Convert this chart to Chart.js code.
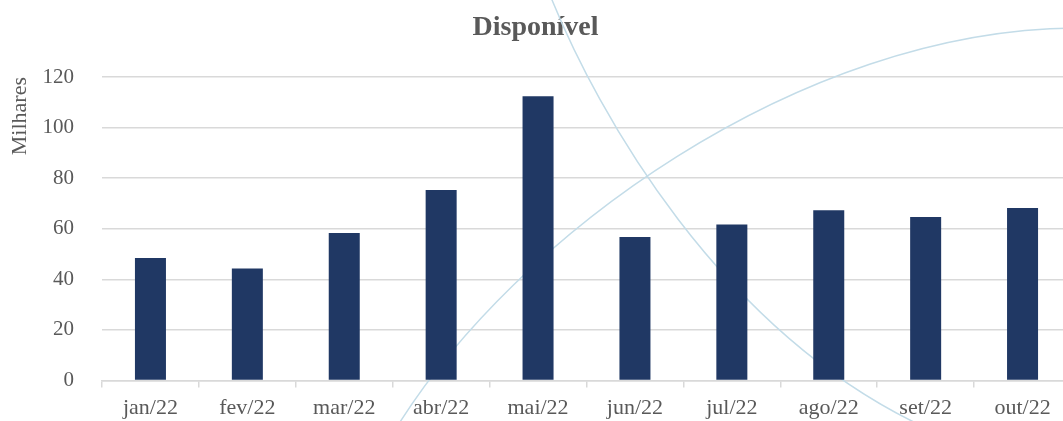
<!DOCTYPE html>
<html>
<head>
<meta charset="utf-8">
<script src="https://cdn.jsdelivr.net/npm/chart.js@4/dist/chart.umd.min.js"></script>
<style>
  body{ margin:0; overflow:hidden; background:#fff; }
</style>
</head>
<body>
<canvas id="chart" width="1075" height="421"></canvas>
<script>
const months = ["jan/22","fev/22","mar/22","abr/22","mai/22","jun/22","jul/22","ago/22","set/22","out/22"];
const disponivel = [48.4, 44.3, 58.3, 75.3, 112.4, 56.7, 61.7, 67.3, 64.6, 68.2];
const yTicks = [0, 20, 40, 60, 80, 100, 120];

const GRAY = "#595959";
const GRID = "#d9d9d9";
const FONT = "'Liberation Serif', 'Times New Roman', serif";

/* light blue background swirls, just decoration */
const swirls = {
  id: "swirls",
  beforeDatasetsDraw(chart){
    const ctx = chart.ctx;
    ctx.save();
    ctx.strokeStyle = "#c3dce8";
    ctx.lineWidth = 1.5;
    ctx.beginPath();
    ctx.moveTo(550, -5);
    ctx.bezierCurveTo(598, 115, 720, 330, 922, 426);
    ctx.stroke();
    ctx.beginPath();
    ctx.moveTo(395, 430);
    ctx.bezierCurveTo(515, 235, 800, 30, 1075, 28);
    ctx.stroke();
    ctx.restore();
  }
};

new Chart(document.getElementById("chart"), {
  type: "bar",
  data: {
    labels: months,
    datasets: [{
      label: "Disponível",
      data: disponivel,
      backgroundColor: "#203864",
      categoryPercentage: 0.32,
      barPercentage: 1
    }]
  },
  options: {
    responsive: false,
    animation: false,
    layout: { padding: { left: 0, right: 4, top: 0, bottom: 0 } },
    plugins: {
      legend: { display: false },
      tooltip: { enabled: false },
      title: {
        display: true,
        text: "Disponível",
        color: GRAY,
        font: { family: FONT, size: 28, weight: "bold" },
        padding: { top: 11, bottom: 32.4 }
      }
    },
    scales: {
      x: {
        grid: { offset: true, drawOnChartArea: false, tickLength: 7, color: GRID, lineWidth: 1.5 },
        border: { display: true, color: GRID, width: 1.5 },
        ticks: { color: GRAY, font: { family: FONT, size: 22 }, padding: 8, maxRotation: 0 },
        afterFit(scale){ scale.height = 40; }
      },
      y: {
        min: 0,
        max: 120,
        afterBuildTicks(scale){ scale.ticks = yTicks.map(v => ({ value: v })); },
        grid: { drawTicks: false, color: GRID, lineWidth: 1.5 },
        border: { display: false },
        ticks: { color: GRAY, font: { family: FONT, size: 21 }, padding: 28 },
        title: {
          display: true,
          text: "Milhares",
          align: "end",
          color: GRAY,
          font: { family: FONT, size: 22 },
          padding: { top: 7, bottom: 0 }
        },
        afterFit(scale){ scale.width = 102; }
      }
    }
  },
  plugins: [swirls]
});
</script>
</body>
</html>
